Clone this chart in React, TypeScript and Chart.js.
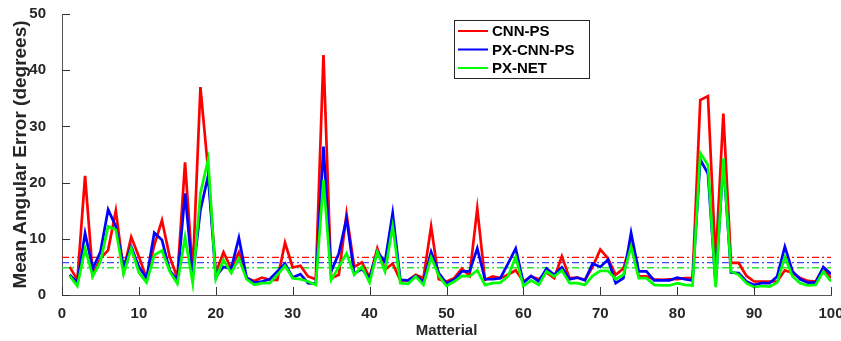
import React, { useEffect, useRef } from "react";
import { Chart, registerables } from "chart.js";

Chart.register(...registerables);

const materials: number[] = Array.from({ length: 100 }, (_, i) => i + 1);

const cnnPS: number[] = [
  5.0, 2.7, 21.2, 3.6, 6.5, 8.0, 15.0, 4.4, 10.3, 6.8,
  3.0, 8.9, 13.3, 6.8, 3.1, 23.6, 3.9, 37.0, 22.2, 3.9,
  7.6, 4.7, 7.6, 3.0, 2.5, 3.1, 2.7, 2.7, 9.3, 4.9,
  5.2, 3.3, 2.8, 42.7, 3.0, 3.6, 14.4, 5.0, 5.8, 3.1,
  8.3, 4.5, 5.6, 2.6, 2.6, 3.6, 3.0, 12.2, 2.8, 2.4,
  3.0, 4.7, 3.4, 15.4, 2.7, 3.3, 3.0, 3.6, 4.4, 2.4,
  3.3, 2.8, 4.0, 3.0, 6.9, 3.0, 3.1, 2.7, 5.0, 8.1,
  6.5, 3.6, 4.7, 9.5, 3.3, 3.3, 2.8, 2.7, 2.8, 2.8,
  3.0, 3.0, 34.7, 35.4, 6.0, 32.3, 5.7, 5.7, 3.4, 2.4,
  2.4, 2.4, 2.4, 4.4, 3.9, 3.0, 2.5, 2.4, 4.7, 3.0,
];

const pxCnnPS: number[] = [
  3.6, 2.2, 11.0, 4.7, 7.7, 15.2, 12.2, 5.0, 8.6, 5.0,
  3.0, 11.1, 9.8, 4.4, 2.6, 18.1, 3.3, 15.1, 21.2, 3.3,
  5.0, 4.7, 10.2, 3.1, 2.2, 2.4, 2.8, 4.2, 5.6, 3.1,
  3.7, 2.1, 2.0, 26.4, 4.2, 7.4, 13.6, 3.8, 4.6, 3.0,
  7.7, 5.9, 14.6, 2.7, 2.6, 3.4, 2.4, 7.7, 3.9, 2.1,
  2.7, 4.2, 4.2, 8.3, 2.8, 2.8, 3.0, 5.6, 8.3, 2.2,
  3.4, 2.4, 4.7, 3.6, 4.9, 2.8, 3.1, 2.6, 5.6, 5.0,
  6.3, 2.1, 3.0, 11.1, 4.2, 4.2, 2.6, 2.6, 2.6, 3.1,
  2.8, 2.6, 24.1, 21.6, 1.8, 24.0, 4.0, 3.9, 2.4, 1.8,
  2.1, 2.1, 3.3, 8.6, 4.2, 2.8, 2.2, 2.2, 5.0, 3.7,
];

const pxNet: number[] = [
  3.4, 1.6, 8.3, 3.3, 5.9, 12.2, 11.6, 3.7, 8.3, 4.0,
  2.2, 7.1, 7.9, 4.2, 2.0, 10.3, 2.1, 18.1, 24.1, 2.8,
  6.2, 3.9, 6.5, 2.8, 1.8, 2.1, 2.1, 3.6, 5.2, 3.0,
  2.8, 2.4, 1.8, 20.5, 2.7, 5.0, 7.4, 3.6, 5.0, 2.2,
  7.7, 4.2, 12.2, 2.1, 2.0, 3.3, 1.8, 6.7, 3.4, 1.6,
  2.4, 3.4, 3.3, 4.4, 1.8, 2.1, 2.2, 3.3, 6.8, 1.6,
  2.6, 1.8, 4.2, 3.3, 4.4, 2.1, 2.1, 1.8, 3.4, 4.3,
  4.3, 2.8, 3.6, 8.6, 3.0, 3.0, 1.8, 1.7, 1.7, 2.1,
  1.8, 1.7, 25.3, 23.1, 1.4, 24.3, 4.2, 3.6, 2.1, 1.4,
  1.6, 1.5, 2.2, 6.8, 3.3, 2.1, 1.7, 1.8, 4.2, 2.4,
];

const meanValues: number[] = [6.7, 5.75, 4.85];
const seriesNames: string[] = ["CNN-PS", "PX-CNN-PS", "PX-NET"];
const seriesColors: string[] = ["#ff0000", "#0000ff", "#00ff00"];
const meanColors: string[] = ["rgba(255,0,0,0.95)", "rgba(40,40,255,0.85)", "rgba(0,230,0,0.85)"];
const xTicks: number[] = [0, 10, 20, 30, 40, 50, 60, 70, 80, 90, 100];
const yTicks: number[] = [0, 10, 20, 30, 40, 50];

const FONT = "'Liberation Sans', Arial, Helvetica, sans-serif";

const inwardTicks = {
  id: "inwardTicks",
  afterDraw(chart: any) {
    const { ctx, chartArea, scales } = chart;
    ctx.save();
    ctx.strokeStyle = "#333333";
    ctx.lineWidth = 1;
    ctx.beginPath();
    for (const v of xTicks) {
      const px = Math.round(scales.x.getPixelForValue(v)) + 0.5;
      ctx.moveTo(px, chartArea.bottom);
      ctx.lineTo(px, chartArea.bottom - 8);
    }
    for (const v of yTicks) {
      const py = Math.round(scales.y.getPixelForValue(v)) + 0.5;
      ctx.moveTo(chartArea.left, py);
      ctx.lineTo(chartArea.left + 8, py);
    }
    ctx.stroke();
    ctx.restore();
  },
};

const boxLegend = {
  id: "boxLegend",
  afterDraw(chart: any) {
    const { ctx } = chart;
    const bx = 454.5, by = 20.5, bw = 135, bh = 58;
    ctx.save();
    ctx.fillStyle = "#ffffff";
    ctx.fillRect(bx, by, bw, bh);
    ctx.strokeStyle = "#262626";
    ctx.lineWidth = 1;
    ctx.strokeRect(bx, by, bw, bh);
    ctx.font = `bold 15px ${FONT}`;
    ctx.textBaseline = "middle";
    ctx.textAlign = "left";
    seriesNames.forEach((name, i) => {
      const y = 31 + i * 18.5;
      ctx.strokeStyle = seriesColors[i];
      ctx.lineWidth = 2;
      ctx.beginPath();
      ctx.moveTo(458, y);
      ctx.lineTo(488, y);
      ctx.stroke();
      ctx.fillStyle = "#000000";
      ctx.fillText(name, 492, y + 1);
    });
    ctx.restore();
  },
};

export default function App() {
  const ref = useRef<HTMLCanvasElement | null>(null);

  useEffect(() => {
    if (!ref.current) return;
    const mainSets = [cnnPS, pxCnnPS, pxNet].map((vals, i) => ({
      label: seriesNames[i],
      data: materials.map((m, j) => ({ x: m, y: vals[j] })),
      borderColor: seriesColors[i],
      backgroundColor: seriesColors[i],
      borderWidth: 2.7,
      pointRadius: 0,
      tension: 0,
      order: 3 - i,
    }));
    const meanSets = meanValues.map((m, i) => ({
      label: "mean " + seriesNames[i],
      data: [
        { x: 0, y: m },
        { x: 100, y: m },
      ],
      borderColor: meanColors[i],
      borderWidth: 1.3,
      borderDash: [7, 3, 2, 3],
      pointRadius: 0,
      order: 10 + i,
    }));

    const chart = new Chart(ref.current, {
      type: "line",
      data: { datasets: [...mainSets, ...meanSets] as any },
      options: {
        animation: false,
        responsive: false,
        layout: { padding: { left: 0, right: 10, top: 14, bottom: 0 } },
        plugins: { legend: { display: false }, tooltip: { enabled: false } },
        scales: {
          x: {
            type: "linear",
            min: 0,
            max: 100,
            grid: { display: false },
            border: { display: true, color: "#555555", width: 1 },
            ticks: {
              stepSize: 10,
              padding: 2,
              color: "#262626",
              font: { family: FONT, size: 15, weight: "bold" },
              maxRotation: 0,
              autoSkip: false,
            },
            title: {
              display: true,
              text: "Matterial",
              color: "#262626",
              font: { family: FONT, size: 15, weight: "bold" },
              padding: { top: 0, bottom: 1 },
            },
            afterFit: (s: any) => {
              s.height = 46;
              s.paddingLeft = 0;
              s.paddingRight = 0;
            },
          },
          y: {
            type: "linear",
            min: 0,
            max: 50,
            grid: { display: false },
            border: { display: true, color: "#555555", width: 1 },
            ticks: {
              stepSize: 10,
              padding: 8,
              color: "#262626",
              font: { family: FONT, size: 15, weight: "bold" },
            },
            title: {
              display: true,
              text: "Mean Angular Error (degrees)",
              color: "#262626",
              font: { family: FONT, size: 19, weight: "bold", lineHeight: 1 },
              padding: { top: 11, bottom: 0 },
            },
            afterFit: (s: any) => {
              s.width = 62;
              s.paddingTop = 0;
              s.paddingBottom = 0;
            },
          },
        },
      },
      plugins: [inwardTicks, boxLegend],
    });
    return () => chart.destroy();
  }, []);

  return (
    <div style={{ position: "absolute", left: 0, top: 0, width: 841, height: 341, background: "#ffffff" }}>
      <canvas ref={ref} width={841} height={341} style={{ display: "block" }} />
    </div>
  );
}
